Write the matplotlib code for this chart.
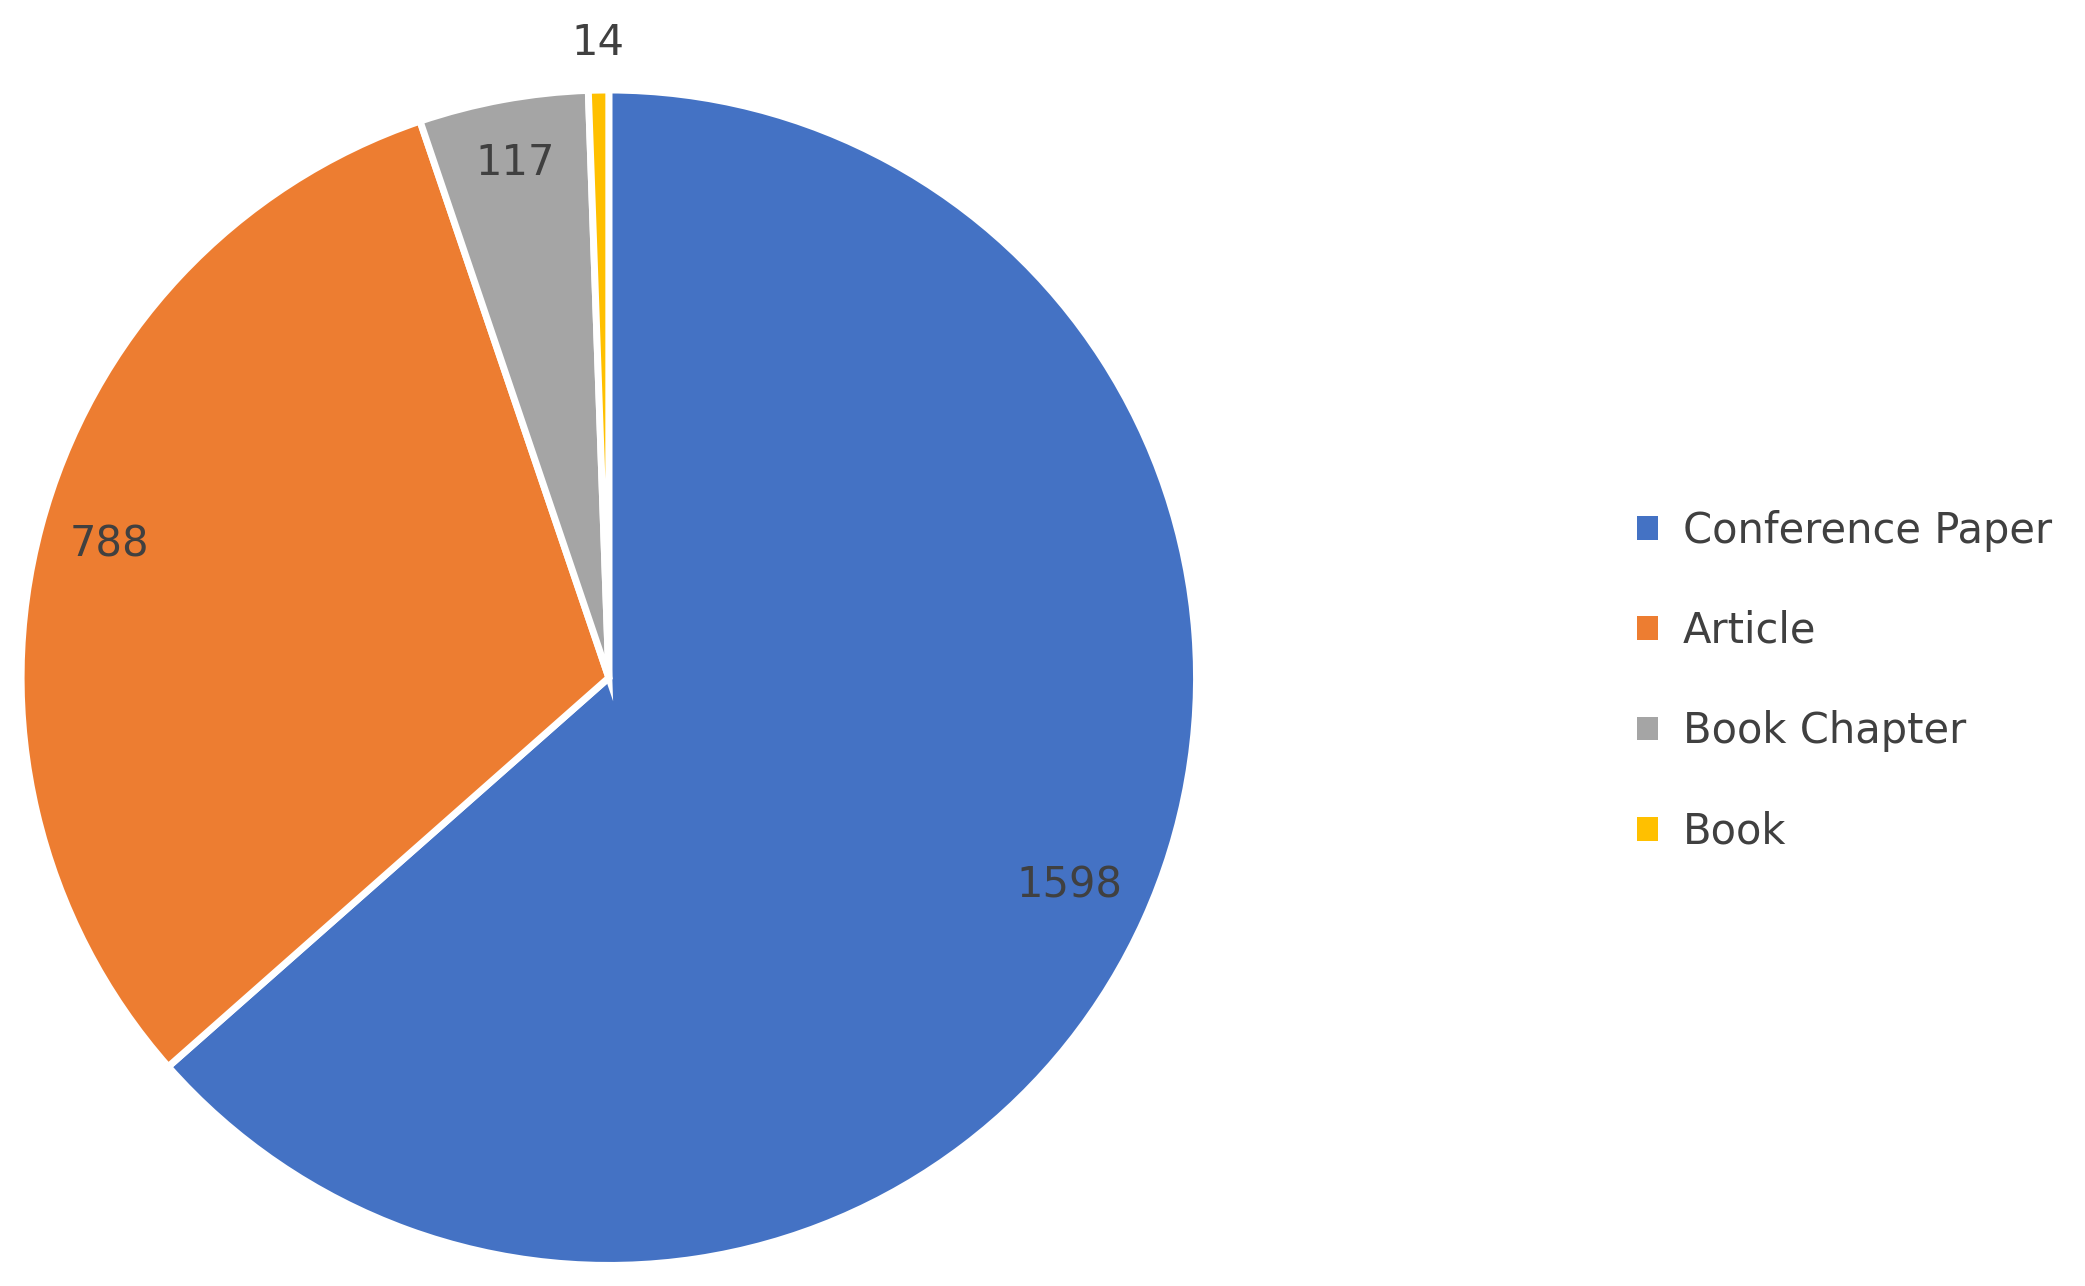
import matplotlib
matplotlib.use("Agg")
import matplotlib.pyplot as plt
import numpy as np
from matplotlib.patches import Patch

categories = ["Conference Paper", "Article", "Book Chapter", "Book"]
values = [1598, 788, 117, 14]
colors = ["#4472C4", "#ED7D31", "#A5A5A5", "#FFC000"]
label_r = [0.86, 0.88, 0.89, 1.08]

fig = plt.figure(figsize=(20.85, 12.86), dpi=100)
ax = fig.add_axes([0.010, 0.016, 0.564, 0.914])
wedges, _ = ax.pie(values, colors=colors, startangle=90, counterclock=False,
                   wedgeprops=dict(edgecolor="white", linewidth=5))
ax.set_aspect("equal")
ax.set_xlim(-1, 1)
ax.set_ylim(-1, 1)
for w, v, r in zip(wedges, values, label_r):
    ang = np.deg2rad((w.theta1 + w.theta2) / 2)
    ax.text(r*np.cos(ang), r*np.sin(ang), str(v), ha="center", va="center",
            fontsize=30, color="#404040", clip_on=False)

handles = [Patch(facecolor=c) for c in colors]
fig.legend(handles, categories, loc="upper left", bbox_to_anchor=(0.775, 0.62),
           frameon=False, fontsize=30, labelcolor="#404040", labelspacing=1.4,
           handlelength=0.5, handleheight=0.5, handletextpad=0.6, borderpad=0)
fig.savefig("out.png", dpi=100, facecolor="white")
